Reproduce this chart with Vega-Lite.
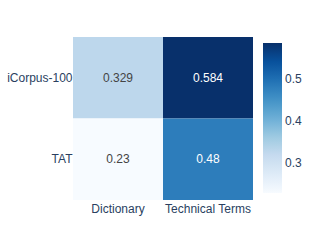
{
  "$schema": "https://vega.github.io/schema/vega-lite/v6.json",
  "width": 180,
  "height": 163,
  "autosize": {"type": "none"},
  "padding": {"left": 73, "top": 37, "right": 60, "bottom": 50},
  "background": "white",
  "config": {
    "view": {"stroke": null},
    "font": "Liberation Sans"
  },
  "data": {
    "values": [
      {"corpus": "iCorpus-100", "type": "Dictionary", "value": 0.329},
      {"corpus": "iCorpus-100", "type": "Technical Terms", "value": 0.584},
      {"corpus": "TAT", "type": "Dictionary", "value": 0.23},
      {"corpus": "TAT", "type": "Technical Terms", "value": 0.48}
    ]
  },
  "encoding": {
    "x": {
      "field": "type", "type": "nominal", "sort": ["Dictionary", "Technical Terms"],
      "scale": {"paddingInner": 0, "paddingOuter": 0},
      "axis": {"title": null, "labelAngle": 0, "domain": false, "ticks": false, "labelPadding": 3, "labelFontSize": 12, "labelColor": "#2a3f5f", "labelFont": "Liberation Sans"}
    },
    "y": {
      "field": "corpus", "type": "nominal", "sort": ["iCorpus-100", "TAT"],
      "scale": {"paddingInner": 0, "paddingOuter": 0},
      "axis": {"title": null, "domain": false, "ticks": false, "labelPadding": 1, "labelFontSize": 12, "labelColor": "#2a3f5f", "labelFont": "Liberation Sans"}
    }
  },
  "layer": [
    {
      "mark": {"type": "rect"},
      "encoding": {
        "color": {
          "field": "value", "type": "quantitative",
          "scale": {
            "domain": [0.23, 0.27425, 0.3185, 0.36275, 0.407, 0.45125, 0.4955, 0.53975, 0.584],
            "range": ["rgb(247,251,255)", "rgb(222,235,247)", "rgb(198,219,239)", "rgb(158,202,225)", "rgb(107,174,214)", "rgb(66,146,198)", "rgb(33,113,181)", "rgb(8,81,156)", "rgb(8,48,107)"],
            "interpolate": "rgb"
          },
          "legend": {
            "title": null,
            "orient": "none",
            "legendX": 190,
            "legendY": 6,
            "direction": "vertical",
            "gradientLength": 150,
            "gradientThickness": 19,
            "gradientStrokeWidth": 0,
            "values": [0.3, 0.4, 0.5],
            "format": ".1f",
            "labelFontSize": 12,
            "labelColor": "#2a3f5f",
            "labelFont": "Liberation Sans",
            "labelOffset": 3
          }
        }
      }
    },
    {
      "mark": {"type": "text", "fontSize": 12, "font": "Liberation Sans"},
      "encoding": {
        "text": {"field": "value", "type": "quantitative", "format": "~g"},
        "color": {
          "condition": {"test": "datum.value > 0.45", "value": "white"},
          "value": "#444444"
        }
      }
    }
  ]
}
